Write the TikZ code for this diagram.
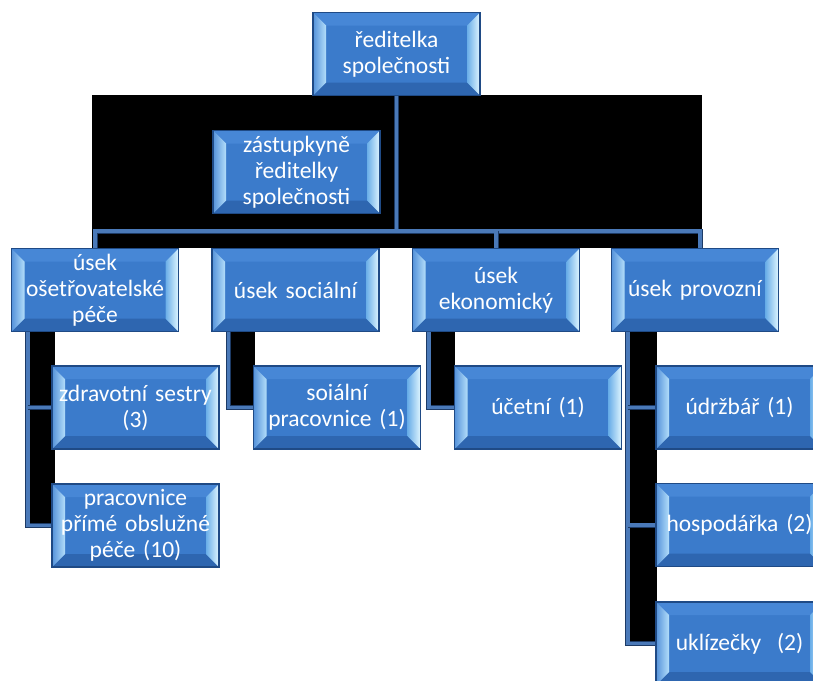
\documentclass[tikz,border=0pt]{standalone}
\usepackage{fontspec}
\setmainfont{Carlito}[WordSpace={0.8,0,0}]
\usetikzlibrary{backgrounds}

\definecolor{obface}{HTML}{3B7BCB}
\definecolor{obtop}{HTML}{4787D6}
\definecolor{obbot}{HTML}{2E66B0}
\definecolor{obedge}{HTML}{1F4A85}
\definecolor{obleft}{HTML}{5592DA}
\definecolor{oblight}{HTML}{B3DEFA}
\definecolor{obright}{HTML}{6AAEE8}
\definecolor{obshine}{HTML}{E0F6FF}
\definecolor{lnfill}{HTML}{4A79B8}
\definecolor{lnedge}{HTML}{1D3B66}

\newcommand\obfont{\fontsize{23.5}{26}\selectfont}
\def\bv{13pt}

\tikzset{ob/.style={draw=obedge, line width=1.1pt, fill=obface, text=white, font=\obfont,
    minimum width=167pt, minimum height=83pt, text width=165pt, align=center, inner sep=0pt,
    path picture={
      \path (path picture bounding box.south west) coordinate (sw)
            (path picture bounding box.north east) coordinate (ne);
      \fill[obtop] (sw |- ne) -- (ne) -- ([xshift=-\bv,yshift=-\bv]ne) -- ([xshift=\bv,yshift=-\bv]sw |- ne) -- cycle;
      \fill[obbot] (sw) -- (sw -| ne) -- ([xshift=-\bv,yshift=\bv]sw -| ne) -- ([xshift=\bv,yshift=\bv]sw) -- cycle;
      \shade[left color=obleft, right color=oblight] (sw) -- (sw |- ne) -- ([xshift=\bv,yshift=-\bv]sw |- ne) -- ([xshift=\bv,yshift=\bv]sw) -- cycle;
      \shade[left color=obright, right color=obshine] (ne) -- (sw -| ne) -- ([xshift=-\bv,yshift=\bv]sw -| ne) -- ([xshift=-\bv,yshift=-\bv]ne) -- cycle;
    }},
  ln/.style={draw=lnedge, line width=0.8pt, double=lnfill, double distance=3.4pt}}

\begin{document}
\begin{tikzpicture}[x=1pt, y=-1pt]
    \useasboundingbox (0,0) rectangle (813,680);

    \node[ob] (boss) at (396.5,54) {ředitelka\\společnosti};

    \node[ob] (deputy) at ([yshift=-118pt, xshift=-100pt] boss) {zástupkyně\\ředitelky\\společnosti};

    \node[ob] (usek_ose) at ([yshift=-236pt, xshift=-301.5pt] boss) {úsek\\ošetřovatelské\\péče};
    \node[ob] (usek_soc) at ([yshift=-236pt, xshift=-101pt] boss) {úsek sociální};
    \node[ob] (usek_eko) at ([yshift=-236pt, xshift=99.5pt] boss) {úsek\\ekonomický};
    \node[ob] (usek_pro) at ([yshift=-236pt, xshift=298.5pt] boss) {úsek provozní};

    \node[ob] (sestry) at ([yshift=-117.5pt, xshift=40.5pt] usek_ose) {zdravotní sestry\\(3)};
    \node[ob] (ppop) at ([yshift=-235.5pt, xshift=40.5pt] usek_ose) {pracovnice\\přímé obslužné\\péče (10)};

    \node[ob] (soc_prac) at ([yshift=-117.5pt, xshift=41.5pt] usek_soc) {soiální\\pracovnice (1)};

    \node[ob] (ucetni) at ([yshift=-117.5pt, xshift=42pt] usek_eko) {účetní (1)};

    \node[ob] (udrzbar) at ([yshift=-117.5pt, xshift=44.5pt] usek_pro) {údržbář (1)};
    \node[ob] (hospodarka) at ([yshift=-235pt, xshift=44.5pt] usek_pro) {hospodářka (2)};
    \node[ob] (uklizecky) at ([yshift=-353.5pt, xshift=44.5pt] usek_pro) {uklízečky\ \ (2)};

    % dark backdrop
    \begin{scope}[on background layer]
        \fill[black] (92,95) rectangle (702,248);
        \fill[black] (29,332) rectangle (55,525);
        \fill[black] (229,332) rectangle (255,407);
        \fill[black] (429,332) rectangle (455,407);
        \fill[black] (628,332) rectangle (657,643);
    \end{scope}

    \coordinate (bar) at ([yshift=-177pt] boss);

    \draw[ln] (boss.south) -- (boss.south |- bar);
    \draw[ln] (usek_ose.north) -- (usek_ose.north |- bar) -- ([xshift=5pt]usek_pro.north |- bar) -- ([xshift=5pt]usek_pro.north);
    \draw[ln] (usek_eko.north |- bar) -- (usek_eko.north);

    \draw[ln] ([xshift=17pt]usek_ose.south west) |- (ppop.west);
    \draw[ln] ([xshift=17pt]usek_ose.south west |- sestry.west) -- (sestry.west);

    \draw[ln] ([xshift=17pt]usek_soc.south west) |- (soc_prac.west);

    \draw[ln] ([xshift=17pt]usek_eko.south west) |- (ucetni.west);

    \draw[ln] ([xshift=17pt]usek_pro.south west) |- (uklizecky.west);
    \draw[ln] ([xshift=17pt]usek_pro.south west |- udrzbar.west) -- (udrzbar.west);
    \draw[ln] ([xshift=17pt]usek_pro.south west |- hospodarka.west) -- (hospodarka.west);

\end{tikzpicture}
\end{document}
